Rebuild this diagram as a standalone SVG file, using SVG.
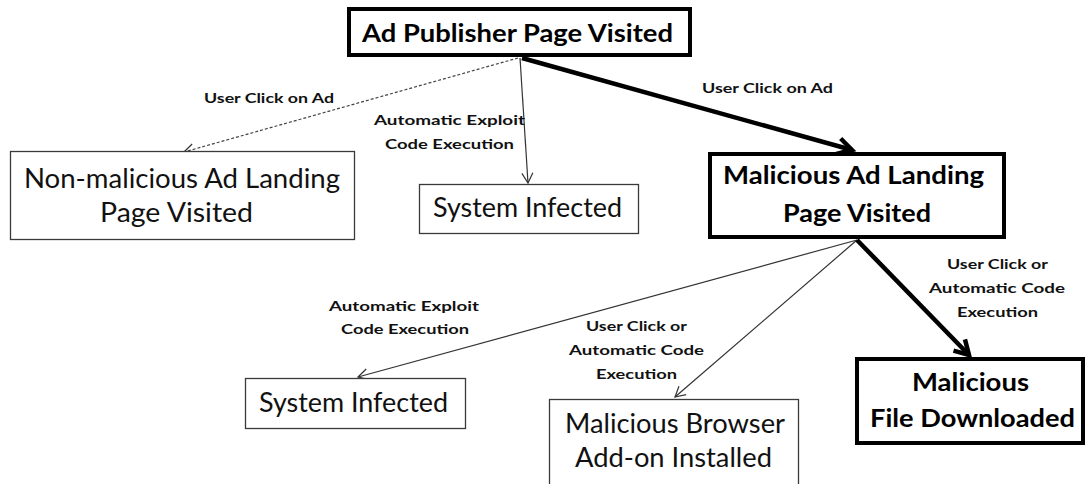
<svg xmlns="http://www.w3.org/2000/svg" width="1086" height="484" viewBox="0 0 1086 484">
<style>
  .bg { fill: #ffffff; }
  .thin { fill: #ffffff; stroke: #3a3a3a; stroke-width: 1.3; }
  .thick { fill: #ffffff; stroke: #000000; stroke-width: 4; }
  .reg { font-family: Lato, "Liberation Sans", sans-serif; font-size: 26px; fill: #111111; }
  .bold { font-family: Lato, "Liberation Sans", sans-serif; font-weight: bold; font-size: 24px; fill: #000000; }
  .lbl { font-family: Lato, "Liberation Sans", sans-serif; font-weight: bold; font-size: 13px; fill: #111111; }
  .c-thin { fill: none; stroke: #333333; stroke-width: 1.2; }
  .c-dash { fill: none; stroke: #444444; stroke-width: 1.2; stroke-dasharray: 3 2; }
  .c-thick { fill: none; stroke: #000000; stroke-width: 4.5; }
</style>
<defs>
  <marker id="arrThin" viewBox="-12 -7 14 14" refX="0" refY="0" markerWidth="14" markerHeight="14" markerUnits="userSpaceOnUse" orient="auto" overflow="visible">
    <path d="M -10 -5.5 L 0 0 L -10 5.5" fill="none" stroke="#333333" stroke-width="1.2"/>
  </marker>
  <marker id="arrThick" viewBox="-18 -10 20 20" refX="0" refY="0" markerWidth="20" markerHeight="20" markerUnits="userSpaceOnUse" orient="auto" overflow="visible">
    <path d="M -14 -8 L 0 0 L -14 8" fill="none" stroke="#000000" stroke-width="4.5" stroke-linejoin="miter"/>
  </marker>
</defs>
<rect class="bg" x="0" y="0" width="1086" height="484"/>

<g id="connectors">
  <line class="c-dash" x1="518" y1="58" x2="184" y2="152" marker-end="url(#arrThin)"/>
  <line class="c-thin" x1="520" y1="58" x2="528" y2="183" marker-end="url(#arrThin)"/>
  <line class="c-thick" x1="522" y1="58" x2="852" y2="150" marker-end="url(#arrThick)"/>
  <line class="c-thin" x1="857" y1="240" x2="358" y2="377" marker-end="url(#arrThin)"/>
  <line class="c-thin" x1="857" y1="240" x2="675" y2="397" marker-end="url(#arrThin)"/>
  <line class="c-thick" x1="857" y1="240" x2="969" y2="355" marker-end="url(#arrThick)"/>
</g>

<g id="labels">
  <text class="lbl" x="204" y="103" textLength="130" lengthAdjust="spacingAndGlyphs">User Click on Ad</text>
  <text class="lbl" x="374" y="125" textLength="151" lengthAdjust="spacingAndGlyphs">Automatic Exploit</text>
  <text class="lbl" x="385" y="149" textLength="129" lengthAdjust="spacingAndGlyphs">Code Execution</text>
  <text class="lbl" x="702" y="93" textLength="131" lengthAdjust="spacingAndGlyphs">User Click on Ad</text>
  <text class="lbl" x="329" y="311" textLength="150" lengthAdjust="spacingAndGlyphs">Automatic Exploit</text>
  <text class="lbl" x="341" y="334" textLength="128" lengthAdjust="spacingAndGlyphs">Code Execution</text>
  <text class="lbl" x="586" y="331" textLength="101" lengthAdjust="spacingAndGlyphs">User Click or</text>
  <text class="lbl" x="569" y="355" textLength="135" lengthAdjust="spacingAndGlyphs">Automatic Code</text>
  <text class="lbl" x="596" y="379" textLength="81" lengthAdjust="spacingAndGlyphs">Execution</text>
  <text class="lbl" x="947" y="269" textLength="101" lengthAdjust="spacingAndGlyphs">User Click or</text>
  <text class="lbl" x="929" y="293" textLength="136" lengthAdjust="spacingAndGlyphs">Automatic Code</text>
  <text class="lbl" x="957" y="317" textLength="81" lengthAdjust="spacingAndGlyphs">Execution</text>
</g>

<g id="node-publisher">
  <rect class="thick" x="349" y="9" width="341" height="46"/>
  <text class="bold" x="362" y="42" font-size="25" textLength="311" lengthAdjust="spacingAndGlyphs">Ad Publisher Page Visited</text>
</g>

<g id="node-nonmalicious">
  <rect class="thin" x="10.5" y="151.5" width="344" height="88"/>
  <text class="reg" x="24" y="188" textLength="316" lengthAdjust="spacingAndGlyphs">Non-malicious Ad Landing</text>
  <text class="reg" x="100" y="222" textLength="153" lengthAdjust="spacingAndGlyphs">Page Visited</text>
</g>

<g id="node-infected-top">
  <rect class="thin" x="419.5" y="184.5" width="219" height="49"/>
  <text class="reg" x="433" y="217" textLength="189" lengthAdjust="spacingAndGlyphs">System Infected</text>
</g>

<g id="node-malicious-landing">
  <rect class="thick" x="710" y="154" width="294" height="83" stroke-width="3.6"/>
  <text class="bold" x="723" y="184" textLength="261" lengthAdjust="spacingAndGlyphs">Malicious Ad Landing</text>
  <text class="bold" x="783" y="222" textLength="148" lengthAdjust="spacingAndGlyphs">Page Visited</text>
</g>

<g id="node-infected-bottom">
  <rect class="thin" x="245.5" y="378.5" width="220" height="50"/>
  <text class="reg" x="259" y="412" textLength="189" lengthAdjust="spacingAndGlyphs">System Infected</text>
</g>

<g id="node-browser-addon">
  <rect class="thin" x="549.5" y="399.5" width="249" height="100"/>
  <text class="reg" x="565" y="433" textLength="220" lengthAdjust="spacingAndGlyphs">Malicious Browser</text>
  <text class="reg" x="575" y="467" textLength="197" lengthAdjust="spacingAndGlyphs">Add-on Installed</text>
</g>

<g id="node-file-downloaded">
  <rect class="thick" x="857" y="359" width="226" height="84"/>
  <text class="bold" x="912" y="391" textLength="117" lengthAdjust="spacingAndGlyphs">Malicious</text>
  <text class="bold" x="870" y="427" textLength="205" lengthAdjust="spacingAndGlyphs">File Downloaded</text>
</g>
</svg>
